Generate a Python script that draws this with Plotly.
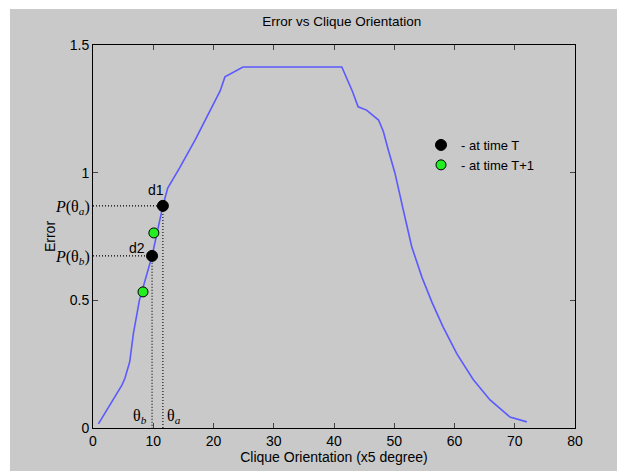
import plotly.graph_objects as go

# ---- data ----
orientation = [0.9, 4.8, 5.3, 6.1, 6.7, 7.3, 7.7, 9.8, 11.6, 12.4, 14.4, 17.0, 19.4,
               21.1, 21.9, 24.9, 41.3, 43.1, 44.0, 45.4, 47.4, 48.2, 49.0, 50.1,
               51.5, 52.9, 54.6, 56.3, 58.1, 60.4, 63.1, 65.9, 69.2, 70.4, 72.0]
error = [0.016, 0.168, 0.195, 0.26, 0.37, 0.45, 0.50, 0.674, 0.87, 0.94, 1.02, 1.13, 1.245,
         1.32, 1.375, 1.414, 1.414, 1.316, 1.258, 1.245, 1.206, 1.16, 1.09, 1.0,
         0.854, 0.71, 0.59, 0.49, 0.396, 0.29, 0.19, 0.11, 0.043, 0.035, 0.024]

time_T_x = [11.6, 9.8]
time_T_y = [0.87, 0.674]
time_T_labels = ["d1", "d2"]
time_T1_x = [10.1, 8.3]
time_T1_y = [0.764, 0.533]

p_labels = ["<i>P</i>(θ<sub><i>a</i></sub>)", "<i>P</i>(θ<sub><i>b</i></sub>)"]
theta_labels = ["θ<sub><i>a</i></sub>", "θ<sub><i>b</i></sub>"]

x_ticks = [0, 10, 20, 30, 40, 50, 60, 70, 80]
y_ticks = [0, 0.5, 1, 1.5]
y_ticktext = ["0", "0.5", "1", "1.5"]

fig = go.Figure()

fig.add_trace(go.Scatter(x=orientation, y=error, mode="lines",
                         line=dict(color="#5a5aff", width=1.6),
                         showlegend=False, hoverinfo="skip"))

# dotted guide lines
for xv, yv in zip(time_T_x, time_T_y):
    fig.add_trace(go.Scatter(x=[0, xv, xv], y=[yv, yv, 0], mode="lines",
                             line=dict(color="black", width=1.1, dash="1px,2px"),
                             showlegend=False, hoverinfo="skip", cliponaxis=False))

fig.add_trace(go.Scatter(x=time_T_x, y=time_T_y, mode="markers",
                         marker=dict(color="black", size=11, line=dict(color="black", width=1)),
                         name="- at time T"))
fig.add_trace(go.Scatter(x=time_T1_x, y=time_T1_y, mode="markers",
                         marker=dict(color="#22ee22", size=10, line=dict(color="black", width=1)),
                         name="- at time T+1"))

annotations = []
shifts = [(-7, 16), (-15, 8)]
for xv, yv, lab, (dx, dy) in zip(time_T_x, time_T_y, time_T_labels, shifts):
    annotations.append(dict(x=xv, y=yv, xref="x", yref="y", text=lab, showarrow=False,
                            xshift=dx, yshift=dy, font=dict(size=14, color="black",
                                                            family="Liberation Sans")))
for yv, lab in zip(time_T_y, p_labels):
    annotations.append(dict(x=0, y=yv, xref="x", yref="y", text=lab, showarrow=False,
                            xanchor="right", yanchor="middle", xshift=-1, yshift=-2,
                            font=dict(size=16, color="black", family="Liberation Serif")))
for xv, lab, anchor, dx in zip(time_T_x, theta_labels, ["left", "right"], [2, -3]):
    annotations.append(dict(x=xv, y=0, xref="x", yref="y", text=lab, showarrow=False,
                            xanchor=anchor, yanchor="bottom", xshift=dx, yshift=0,
                            font=dict(size=16, color="black", family="Liberation Serif")))

fig.update_layout(
    width=625, height=475,
    margin=dict(l=85, r=58, t=37, b=55),
    paper_bgcolor="white",
    plot_bgcolor="white",
    font=dict(family="Liberation Sans", size=14, color="black"),
    title=dict(text="Error vs Clique Orientation", x=0.534, xanchor="center",
               y=1 - 13 / 475, yanchor="middle", yref="container",
               font=dict(size=13.5, color="black")),
    shapes=[dict(type="rect", xref="paper", yref="paper",
                 x0=(10 - 93) / 482, x1=(622 - 93) / 482,
                 y0=(428 - 471) / 383, y1=(428 - 9) / 383,
                 fillcolor="#c9c9c9", line=dict(width=0), layer="below")],
    annotations=annotations,
    legend=dict(x=(441 - 20 - 93) / 482, y=(428 - 130) / 383, xanchor="left", yanchor="top",
                bgcolor="rgba(0,0,0,0)", font=dict(size=13), itemwidth=30,
                tracegroupgap=0),
    xaxis=dict(range=[0, 80], tickvals=x_ticks, ticks="inside", ticklen=5,
               showline=True, linecolor="black", linewidth=1, mirror="allticks",
               showgrid=False, zeroline=False,
               title=dict(text="Clique Orientation (x5 degree)", standoff=4, font=dict(size=14)),
               tickfont=dict(size=14)),
    yaxis=dict(range=[0, 1.5], tickvals=y_ticks, ticktext=y_ticktext, ticks="inside", ticklen=5,
               showline=True, linecolor="black", linewidth=1, mirror="allticks",
               showgrid=False, zeroline=False,
               title=dict(text="Error", standoff=10, font=dict(size=14)),
               tickfont=dict(size=14)),
)

fig.write_html("out.html")
